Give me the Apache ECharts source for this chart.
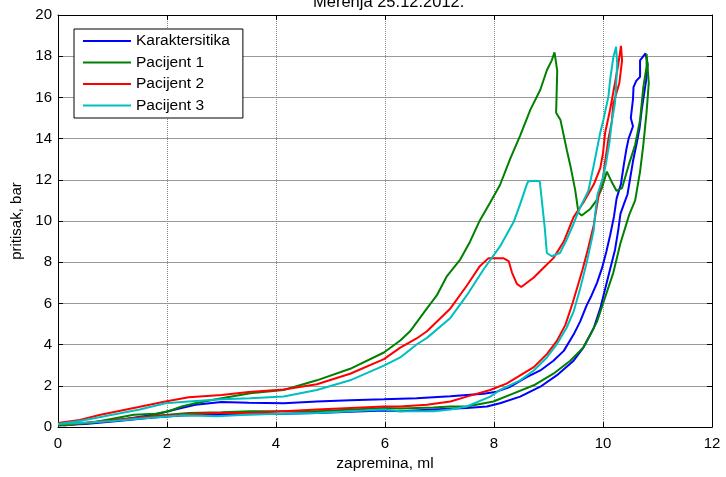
<!DOCTYPE html>
<html>
<head>
<meta charset="utf-8">
<script src="https://cdn.jsdelivr.net/npm/echarts@6/dist/echarts.min.js"></script>
<style>
html,body{margin:0;padding:0;background:#fff;}
#chart{width:726px;height:477px;}
</style>
</head>
<body>
<div id="chart"></div>
<script>
const chartTitle = 'Merenja 25.12.2012.';
const xName = 'zapremina, ml';
const yName = 'pritisak, bar';
const seriesNames = ['Karaktersitika', 'Pacijent 1', 'Pacijent 2', 'Pacijent 3'];

const karaktersitika = [
  [0,0.1],[0.13,0.09],[0.56,0.21],[1.17,0.37],[1.79,0.61],[2.15,0.85],[2.52,1.08],[3.0,1.22],[3.5,1.18],
  [4.14,1.16],[4.75,1.24],[5.36,1.3],[5.98,1.35],[6.58,1.4],[7.2,1.5],[7.81,1.62],[8.05,1.72],[8.3,1.96],
  [8.6,2.43],[8.85,2.75],[9.09,3.22],[9.28,3.7],[9.46,4.49],[9.58,5.12],[9.70,5.91],[9.79,6.39],[9.89,7.0],
  [9.98,7.7],[10.06,8.5],[10.13,9.3],[10.2,10.2],[10.25,11.1],[10.33,11.8],[10.38,12.7],[10.43,13.5],
  [10.47,14.0],[10.55,14.6],[10.51,15.0],[10.55,15.9],[10.56,16.5],[10.61,16.8],[10.68,17.0],[10.68,17.8],
  [10.78,18.14],[10.82,17.6],[10.79,16.8],[10.71,15.4],[10.67,14.5],[10.62,13.8],[10.55,12.9],[10.5,12.1],
  [10.45,11.3],[10.38,10.8],[10.32,10.35],[10.28,9.56],[10.22,8.6],[10.13,7.66],[10.04,6.71],[9.95,5.76],
  [9.83,4.81],[9.64,3.86],[9.46,3.22],[9.15,2.51],[8.85,1.96],[8.48,1.48],[8.11,1.16],[7.87,1.0],[7.5,0.93],
  [6.89,0.85],[6.28,0.77],[5.98,0.8],[4.75,0.69],[4.14,0.65],[3.5,0.62],[2.9,0.6],[2.27,0.56],[1.7,0.45],
  [1.1,0.3],[0.5,0.15],[0.05,0.1]
];

const pacijent1 = [
  [0,0.08],[0.3,0.12],[0.78,0.3],[1.39,0.6],[1.79,0.65],[2.03,0.77],[2.27,1.0],[2.52,1.16],[3.0,1.4],
  [3.53,1.64],[4.14,1.8],[4.75,2.27],[5.36,2.83],[5.98,3.62],[6.28,4.2],[6.46,4.65],[6.77,5.76],[6.95,6.39],
  [7.13,7.3],[7.38,8.13],[7.56,9.0],[7.74,10.03],[7.93,10.9],[8.11,11.75],[8.3,13.04],[8.48,14.15],
  [8.67,15.42],[8.85,16.37],[8.97,17.32],[9.06,17.8],[9.11,18.19],[9.16,17.3],[9.14,15.26],[9.22,14.9],
  [9.34,13.4],[9.40,12.7],[9.49,11.5],[9.55,10.4],[9.61,10.27],[9.77,10.6],[9.88,11.0],[9.98,11.6],
  [10.07,12.4],[10.16,11.9],[10.25,11.46],[10.35,11.6],[10.47,12.7],[10.59,13.7],[10.68,14.9],[10.74,16.5],
  [10.80,17.5],[10.80,18.1],[10.84,16.7],[10.80,15.3],[10.74,13.7],[10.68,12.4],[10.59,11.0],[10.48,10.3],
  [10.32,8.92],[10.19,7.5],[10.01,6.07],[9.89,5.12],[9.77,4.49],[9.64,3.86],[9.40,3.22],[9.09,2.59],
  [8.73,2.03],[8.36,1.64],[7.99,1.24],[7.5,1.0],[7.2,1.0],[6.89,0.95],[6.28,0.9],[5.98,0.93],[4.75,0.77],
  [3.53,0.77],[3.0,0.72],[2.4,0.69],[1.8,0.55],[1.2,0.38],[0.6,0.2],[0,0.08]
];

const pacijent2 = [
  [0,0.2],[0.4,0.35],[0.78,0.6],[1.39,0.93],[1.97,1.24],[2.4,1.45],[3.0,1.56],[3.5,1.7],[4.14,1.83],
  [4.75,2.08],[5.36,2.59],[5.98,3.3],[6.28,3.86],[6.58,4.3],[6.77,4.65],[7.2,5.76],[7.5,6.86],[7.74,7.81],
  [7.9,8.2],[8.17,8.2],[8.27,8.05],[8.33,7.5],[8.42,6.95],[8.5,6.8],[8.73,7.26],[8.91,7.73],[9.09,8.2],
  [9.28,9.0],[9.46,10.19],[9.64,10.9],[9.83,11.77],[9.95,12.57],[10.0,13.3],[10.04,14.3],[10.13,15.4],
  [10.22,16.7],[10.28,17.6],[10.33,18.5],[10.35,17.8],[10.3,16.7],[10.19,15.7],[10.16,14.8],[10.10,14.0],
  [10.04,12.9],[10.0,12.1],[9.93,11.4],[9.83,9.8],[9.72,8.6],[9.62,7.6],[9.53,6.8],[9.44,6.0],[9.31,4.96],
  [9.15,4.17],[8.97,3.54],[8.73,2.91],[8.48,2.51],[8.23,2.11],[7.93,1.8],[7.5,1.48],[7.2,1.24],[6.77,1.08],
  [6.28,1.0],[5.98,1.0],[4.75,0.85],[4.14,0.77],[3.53,0.69],[2.92,0.69],[2.3,0.61],[1.7,0.5],[1.17,0.37],
  [0.5,0.2],[0,0.15]
];

const pacijent3 = [
  [0,0.15],[0.4,0.3],[0.9,0.55],[1.5,0.85],[1.97,1.16],[2.4,1.24],[3.0,1.35],[3.53,1.4],[4.14,1.48],
  [4.75,1.8],[5.36,2.27],[5.98,2.98],[6.28,3.38],[6.58,4.01],[6.77,4.33],[7.2,5.3],[7.5,6.39],[7.81,7.66],
  [8.11,8.77],[8.36,9.95],[8.48,10.82],[8.6,11.77],[8.63,11.93],[8.78,11.95],[8.84,11.93],[8.93,9.71],
  [8.97,8.45],[9.06,8.29],[9.21,8.45],[9.33,9.08],[9.46,9.87],[9.58,10.66],[9.73,11.46],[9.83,12.7],
  [9.88,13.36],[9.95,14.3],[10.01,14.94],[10.10,16.05],[10.13,16.84],[10.19,17.95],[10.24,18.46],
  [10.26,17.64],[10.24,16.52],[10.22,15.74],[10.16,14.79],[10.12,13.84],[10.06,12.88],[10.0,12.1],
  [9.9,11.3],[9.85,10.2],[9.83,9.56],[9.70,7.97],[9.58,6.71],[9.46,5.6],[9.33,4.81],[9.15,4.01],[8.97,3.38],
  [8.73,2.75],[8.48,2.27],[8.11,1.8],[7.93,1.48],[7.5,1.0],[7.2,0.85],[6.89,0.77],[6.28,0.77],[5.98,0.85],
  [4.75,0.69],[3.53,0.61],[2.92,0.53],[2.3,0.58],[1.7,0.45],[1.0,0.3],[0.4,0.2],[0,0.15]
];

const FONT = 'Liberation Sans, Arial, sans-serif';
const chart = echarts.init(document.getElementById('chart'), null, {renderer: 'canvas'});

function mkSeries(name, data, color) {
  return {
    name: name, type: 'line', data: data, showSymbol: false, symbol: 'none',
    lineStyle: {color: color, width: 2}, itemStyle: {color: color},
    animation: false, clip: true
  };
}

const option = {
  backgroundColor: '#fff',
  animation: false,
  title: {
    text: chartTitle, left: 313, top: -6, padding: 0,
    textStyle: {fontFamily: FONT, fontSize: 16.5, fontWeight: 'normal', color: '#000'}
  },
  legend: {
    orient: 'vertical', left: 74, top: 29,
    data: seriesNames,
    icon: 'rect', itemWidth: 48, itemHeight: 2, itemGap: 5.5,
    padding: [4, 13, 4.5, 9],
    borderColor: '#000', borderWidth: 1, backgroundColor: '#fff',
    textStyle: {fontFamily: FONT, fontSize: 15.5, color: '#000', lineHeight: 15},
    selectedMode: false
  },
  grid: {left: 58, right: 14, top: 15, bottom: 42, show: false},
  xAxis: [{
    type: 'value', min: 0, max: 12, interval: 2, position: 'bottom',
    name: xName, nameLocation: 'middle', nameGap: 23,
    nameTextStyle: {fontFamily: FONT, fontSize: 15.5, color: '#000'},
    axisLine: {show: true, onZero: false, lineStyle: {color: '#000', width: 1}},
    axisTick: {show: true, inside: true, length: 5, lineStyle: {color: '#000'}},
    axisLabel: {fontFamily: FONT, fontSize: 15, color: '#000', margin: 9},
    splitLine: {show: true, lineStyle: {color: '#888', type: 'dotted', width: 1}}
  }, {
    type: 'value', min: 0, max: 12, interval: 2, position: 'top',
    axisLine: {show: true, onZero: false, lineStyle: {color: '#000', width: 1}},
    axisTick: {show: true, inside: true, length: 5, lineStyle: {color: '#000'}},
    axisLabel: {show: false}, splitLine: {show: false}
  }],
  yAxis: [{
    type: 'value', min: 0, max: 20, interval: 2, position: 'left',
    name: yName, nameLocation: 'middle', nameGap: 29, nameRotate: 90,
    nameTextStyle: {fontFamily: FONT, fontSize: 15, color: '#000'},
    axisLine: {show: true, onZero: false, lineStyle: {color: '#000', width: 1}},
    axisTick: {show: true, inside: true, length: 5, lineStyle: {color: '#000'}},
    axisLabel: {fontFamily: FONT, fontSize: 15, color: '#000', margin: 6},
    splitLine: {show: true, lineStyle: {color: '#999', type: 'solid', width: 1}}
  }, {
    type: 'value', min: 0, max: 20, interval: 2, position: 'right',
    axisLine: {show: true, onZero: false, lineStyle: {color: '#000', width: 1}},
    axisTick: {show: true, inside: true, length: 5, lineStyle: {color: '#000'}},
    axisLabel: {show: false}, splitLine: {show: false}
  }],
  series: [
    mkSeries(seriesNames[0], karaktersitika, '#0000ff'),
    mkSeries(seriesNames[1], pacijent1, '#008000'),
    mkSeries(seriesNames[2], pacijent2, '#ff0000'),
    mkSeries(seriesNames[3], pacijent3, '#00bfbf')
  ]
};
chart.setOption(option);
</script>
</body>
</html>
